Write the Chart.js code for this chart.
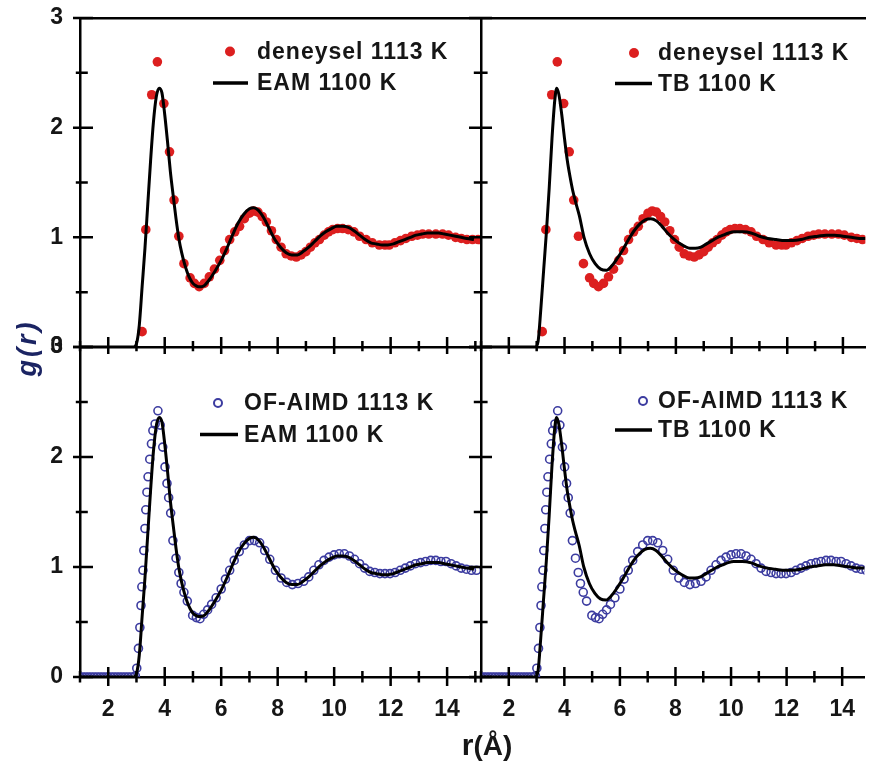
<!DOCTYPE html>
<html>
<head>
<meta charset="utf-8">
<script src="https://cdn.jsdelivr.net/npm/chart.js@4.4.0/dist/chart.umd.min.js"></script>
<style>
  body { margin: 0; background: #fff; overflow: hidden; }
  #wrap { position: relative; width: 870px; height: 763px; }
  #wrap canvas { position: absolute; left: 0; top: 0; }
</style>
</head>
<body>
<div id="wrap">
  <canvas id="tl" width="870" height="763"></canvas>
  <canvas id="tr" width="870" height="763"></canvas>
  <canvas id="bl" width="870" height="763"></canvas>
  <canvas id="br" width="870" height="763"></canvas>
</div>
<script>
// tick values (r in Angstrom, g(r))
const xMajor = [2, 4, 6, 8, 10, 12, 14];
const xMinor = [1, 3, 5, 7, 9, 11, 13, 15];
const yMajor = [0, 1, 2, 3];
const yMinor = [0.5, 1.5, 2.5];

// experiment, 1113 K  [r, g]
const deneysel = [
  [3.20,0.14],[3.33,1.07],[3.54,2.30],[3.74,2.60],[3.97,2.22],[4.17,1.78],[4.33,1.34],[4.50,1.01],
  [4.68,0.76],[4.90,0.63],[5.05,0.58],[5.22,0.55],[5.40,0.58],[5.58,0.64],[5.76,0.71],[5.95,0.79],
  [6.12,0.88],[6.30,0.98],[6.48,1.05],[6.65,1.10],[6.82,1.17],[7.00,1.22],[7.15,1.24],[7.30,1.23],
  [7.45,1.19],[7.60,1.14],[7.78,1.06],[7.95,0.98],[8.12,0.91],[8.30,0.85],[8.48,0.83],[8.66,0.82],
  [8.83,0.84],[9.00,0.87],[9.16,0.91],[9.32,0.95],[9.48,0.98],[9.65,1.02],[9.80,1.05],[9.95,1.07],
  [10.12,1.08],[10.30,1.08],[10.50,1.07],[10.70,1.05],[10.90,1.01],[11.13,0.98],[11.35,0.95],[11.60,0.93],
  [11.80,0.93],[11.95,0.93],[12.15,0.95],[12.35,0.97],[12.54,0.99],[12.75,1.01],[12.95,1.02],[13.13,1.03],
  [13.35,1.03],[13.60,1.03],[13.84,1.03],[14.05,1.02],[14.30,1.00],[14.50,0.99],[14.70,0.98],[14.90,0.98],
  [15.10,0.98]
];

// OF-AIMD, 1113 K  [r, g]
const ofAimd = [
  [1.0,0],[1.1,0],[1.2,0],[1.3,0],[1.4,0],[1.5,0],[1.6,0],[1.7,0],[1.8,0],[1.9,0],
  [2.0,0],[2.1,0],[2.2,0],[2.3,0],[2.4,0],[2.5,0],[2.6,0],[2.7,0],[2.8,0],[2.9,0],
  [2.96,0.01],[3.01,0.08],[3.07,0.26],[3.12,0.45],[3.16,0.65],[3.19,0.82],[3.23,0.97],[3.26,1.15],
  [3.30,1.35],[3.33,1.52],[3.37,1.68],[3.41,1.82],[3.47,1.98],[3.53,2.12],[3.58,2.24],[3.66,2.30],
  [3.76,2.42],[3.84,2.29],[3.93,2.09],[4.01,1.91],[4.08,1.76],[4.14,1.63],[4.21,1.49],[4.29,1.24],
  [4.40,1.08],[4.50,0.95],[4.58,0.85],[4.68,0.77],[4.80,0.69],[4.99,0.56],[5.12,0.54],[5.25,0.53],
  [5.38,0.57],[5.52,0.61],[5.66,0.66],[5.82,0.72],[6.00,0.80],[6.15,0.89],[6.30,0.97],[6.46,1.06],
  [6.64,1.14],[6.82,1.20],[7.00,1.24],[7.18,1.24],[7.36,1.22],[7.54,1.15],[7.72,1.07],[7.92,0.97],
  [8.12,0.90],[8.32,0.86],[8.52,0.84],[8.72,0.85],[8.92,0.87],[9.10,0.91],[9.28,0.97],[9.46,1.02],
  [9.64,1.06],[9.82,1.09],[10.00,1.11],[10.18,1.12],[10.36,1.12],[10.54,1.10],[10.72,1.07],[10.90,1.03],
  [11.08,0.99],[11.26,0.96],[11.44,0.95],[11.62,0.94],[11.80,0.94],[11.98,0.94],[12.16,0.95],[12.34,0.97],
  [12.52,0.99],[12.70,1.01],[12.88,1.03],[13.06,1.04],[13.24,1.05],[13.42,1.06],[13.60,1.06],[13.78,1.05],
  [13.96,1.05],[14.14,1.03],[14.32,1.01],[14.50,0.99],[14.68,0.98],[14.86,0.97],[15.04,0.97]
];

// EAM, 1100 K  [r, g]
const eam = [
  [1.0,0],[2.9,0],[3.0,0.03],[3.1,0.2],[3.2,0.55],[3.3,0.9],[3.4,1.3],[3.5,1.7],[3.6,2.05],[3.7,2.28],
  [3.8,2.36],[3.9,2.32],[4.0,2.12],[4.1,1.87],[4.2,1.6],[4.3,1.38],[4.4,1.17],[4.5,0.99],[4.6,0.86],
  [4.7,0.76],[4.8,0.68],[4.9,0.62],[5.0,0.58],[5.1,0.56],[5.2,0.55],[5.3,0.55],[5.4,0.56],[5.6,0.62],
  [5.8,0.70],[6.0,0.79],[6.2,0.90],[6.4,1.02],[6.6,1.13],[6.8,1.21],[7.0,1.26],[7.15,1.27],[7.3,1.25],
  [7.5,1.18],[7.7,1.08],[7.9,0.98],[8.1,0.91],[8.3,0.86],[8.5,0.84],[8.7,0.84],[8.9,0.87],[9.1,0.91],
  [9.3,0.96],[9.5,1.01],[9.7,1.05],[9.9,1.08],[10.1,1.10],[10.3,1.10],[10.5,1.09],[10.7,1.06],[10.9,1.02],
  [11.1,0.98],[11.3,0.95],[11.5,0.94],[11.7,0.93],[11.9,0.93],[12.1,0.94],[12.3,0.96],[12.5,0.98],
  [12.7,1.00],[12.9,1.02],[13.1,1.03],[13.3,1.04],[13.5,1.04],[13.7,1.04],[13.9,1.03],[14.1,1.02],
  [14.3,1.01],[14.5,1.00],[14.7,0.99],[14.95,0.98]
];

// TB, 1100 K  [r, g]
const tb = [
  [1.0,0],[2.95,0],[3.05,0.05],[3.15,0.35],[3.25,0.7],[3.35,1.05],[3.45,1.45],[3.55,1.9],[3.65,2.25],
  [3.72,2.36],[3.8,2.3],[3.9,2.12],[4.0,1.9],[4.1,1.7],[4.2,1.55],[4.3,1.42],[4.4,1.32],[4.53,1.2],
  [4.7,1.0],[4.9,0.85],[5.1,0.76],[5.3,0.71],[5.5,0.70],[5.7,0.74],[5.9,0.81],[6.1,0.89],[6.3,0.98],
  [6.5,1.06],[6.7,1.12],[6.9,1.16],[7.1,1.17],[7.3,1.15],[7.5,1.10],[7.7,1.04],[7.9,0.99],[8.1,0.95],
  [8.3,0.92],[8.5,0.90],[8.7,0.90],[8.9,0.91],[9.1,0.94],[9.3,0.97],[9.5,1.00],[9.7,1.02],[9.9,1.04],
  [10.1,1.05],[10.4,1.05],[10.7,1.04],[11.0,1.01],[11.3,0.99],[11.6,0.98],[11.9,0.97],[12.2,0.97],
  [12.5,0.98],[12.8,1.0],[13.1,1.01],[13.4,1.02],[13.7,1.02],[14.0,1.01],[14.3,1.0],[14.6,0.99],[14.9,0.99]
];

const W = 870, H = 763;
const FONT = "'Liberation Sans', Arial, sans-serif";
const INK = '#161616';

const pts = arr => arr.map(p => ({ x: p[0], y: p[1] }));

// dataset builders
const dots = (label, pairs) => ({
  label, data: pts(pairs), pointRadius: 4.8, backgroundColor: '#dc1f1f', borderColor: '#dc1f1f', borderWidth: 0, order: 2
});
const rings = (label, pairs) => ({
  label, data: pts(pairs), pointRadius: 4, backgroundColor: 'rgba(0,0,0,0)', borderColor: '#3c3ca0', borderWidth: 1.6, order: 2
});
const curve = (label, pairs) => ({
  label, data: pts(pairs), showLine: true, pointRadius: 0, borderColor: '#000', borderWidth: 3,
  cubicInterpolationMode: 'monotone', order: 1
});

// no extra room for edge labels, the panels butt against each other
const noPad = s => { s.paddingTop = 0; s.paddingBottom = 0; s.paddingLeft = 0; s.paddingRight = 0; };

// ticks that cross the axis line (in = into plot, out = outside)
const crossTicks = {
  id: 'crossTicks',
  afterDraw(chart, args, o) {
    const { ctx, chartArea: { left, bottom }, scales: { x, y } } = chart;
    ctx.save();
    ctx.strokeStyle = '#000';
    ctx.lineWidth = 2.5;
    ctx.beginPath();
    const xt = (v, inn, out) => {
      if (v < x.min || v > x.max) return;
      const px = x.getPixelForValue(v);
      ctx.moveTo(px, bottom - inn); ctx.lineTo(px, bottom + out);
    };
    const yt = (v, inn, out) => {
      const py = y.getPixelForValue(v);
      ctx.moveTo(left - out, py); ctx.lineTo(left + inn, py);
    };
    xMajor.forEach(v => xt(v, o.xIn, o.xOut));
    xMinor.forEach(v => xt(v, o.xIn * 0.6, o.xOut * 0.6));
    yMajor.forEach(v => yt(v, o.yIn, o.yOut));
    yMinor.forEach(v => yt(v, o.yIn * 0.6, o.yOut * 0.6));
    ctx.stroke();
    ctx.restore();
  }
};

// legend inside the plot area
const insetLegend = {
  id: 'insetLegend',
  afterDraw(chart, args, o) {
    const ctx = chart.ctx;
    ctx.save();
    ctx.font = `bold 23px ${FONT}`;
    ctx.letterSpacing = '1px';
    ctx.fillStyle = INK;
    ctx.textBaseline = 'alphabetic';
    chart.data.datasets.forEach((ds, i) => {
      const base = o.base[i];
      if (ds.showLine) {
        ctx.strokeStyle = ds.borderColor;
        ctx.lineWidth = 3.5;
        ctx.beginPath();
        ctx.moveTo(o.line[0], base - 7);
        ctx.lineTo(o.line[1], base - 7);
        ctx.stroke();
      } else if (ds.borderWidth) {
        ctx.strokeStyle = ds.borderColor;
        ctx.lineWidth = 2;
        ctx.beginPath();
        ctx.arc(o.markX, base - 7, 4, 0, Math.PI * 2);
        ctx.stroke();
      } else {
        ctx.fillStyle = ds.backgroundColor;
        ctx.beginPath();
        ctx.arc(o.markX, base - 7, 5, 0, Math.PI * 2);
        ctx.fill();
        ctx.fillStyle = INK;
      }
      ctx.fillText(ds.label, o.textX, base);
    });
    ctx.restore();
  }
};

// shared axis titles: g(r) and r(Å)
const axisTitles = {
  id: 'axisTitles',
  afterDraw(chart) {
    const ctx = chart.ctx;
    ctx.save();
    ctx.translate(29, 348);
    ctx.rotate(-Math.PI / 2);
    ctx.font = `italic bold 27px ${FONT}`;
    ctx.letterSpacing = '3px';
    ctx.fillStyle = '#1b2463';
    ctx.textAlign = 'center';
    ctx.textBaseline = 'middle';
    ctx.fillText('g(r)', 0, 0);
    ctx.restore();

    ctx.save();
    ctx.fillStyle = INK;
    ctx.textBaseline = 'alphabetic';
    ctx.font = `bold 30px ${FONT}`;
    const w1 = ctx.measureText('r').width;
    ctx.font = `bold 28px ${FONT}`;
    const w2 = ctx.measureText('(Å)').width;
    const x0 = 487 - (w1 + w2) / 2;
    ctx.font = `bold 30px ${FONT}`;
    ctx.fillText('r', x0, 755);
    ctx.font = `bold 28px ${FONT}`;
    ctx.fillText('(Å)', x0 + w1, 755);
    ctx.restore();
  }
};

function panel(id, cfg) {
  const yW = cfg.yLabels ? 80 : 0;
  const xH = cfg.xLabels ? 86 : 0;
  const tickFont = { family: FONT, size: 23, weight: 'bold' };
  const border = { display: true, color: '#000', width: 2.5 };
  return new Chart(document.getElementById(id), {
    type: 'scatter',
    data: { datasets: cfg.datasets },
    options: {
      responsive: false,
      animation: false,
      events: [],
      layout: {
        padding: { left: cfg.box[0] - yW, top: cfg.box[1], right: W - cfg.box[2], bottom: H - cfg.box[3] - xH }
      },
      scales: {
        x: {
          type: 'linear', position: 'bottom', min: 1, max: cfg.xMax,
          afterBuildTicks: s => { s.ticks = xMajor.map(v => ({ value: v })); },
          afterFit: s => { s.height = xH; noPad(s); },
          grid: { display: false, drawTicks: false },
          border,
          ticks: { display: cfg.xLabels, font: tickFont, color: INK, padding: 19, maxRotation: 0, autoSkip: false }
        },
        y: {
          type: 'linear', position: 'left', min: 0, max: 3,
          afterBuildTicks: s => { s.ticks = yMajor.map(v => ({ value: v })); },
          afterFit: s => { s.width = yW; noPad(s); },
          grid: { display: false, drawTicks: false },
          border,
          ticks: { display: cfg.yLabels, font: tickFont, color: INK, padding: 17 }
        },
        top: {
          type: 'linear', axis: 'x', position: 'top', min: 1, max: cfg.xMax,
          display: cfg.topLine,
          afterFit: s => { s.height = 0; noPad(s); },
          grid: { display: false, drawTicks: false },
          border,
          ticks: { display: false }
        }
      },
      plugins: {
        legend: { display: false },
        tooltip: { enabled: false },
        crossTicks: cfg.ticks,
        insetLegend: cfg.legend
      }
    },
    plugins: [crossTicks, insetLegend].concat(cfg.extra || [])
  });
}

panel('tl', {
  box: [80, 18, 481, 347], xMax: 15.2, yLabels: true, xLabels: false, topLine: true,
  datasets: [dots('deneysel 1113 K', deneysel), curve('EAM 1100 K', eam)],
  ticks: { xIn: 10, xOut: 7, yIn: 13, yOut: 7 },
  legend: { textX: 257, base: [58.5, 90], markX: 230, line: [213, 248] }
});
panel('tr', {
  box: [481, 18, 870, 347], xMax: 14.8, yLabels: false, xLabels: false, topLine: true,
  datasets: [dots('deneysel 1113 K', deneysel), curve('TB 1100 K', tb)],
  ticks: { xIn: 10, xOut: 7, yIn: 11, yOut: 12 },
  legend: { textX: 658, base: [60, 90.5], markX: 634, line: [615, 652] }
});
panel('bl', {
  box: [80, 347, 481, 677], xMax: 15.2, yLabels: true, xLabels: true, topLine: false,
  datasets: [rings('OF-AIMD 1113 K', ofAimd), curve('EAM 1100 K', eam)],
  ticks: { xIn: 10, xOut: 9, yIn: 13, yOut: 7 },
  legend: { textX: 244, base: [410, 441.5], markX: 218, line: [200, 238] },
  extra: [axisTitles]
});
panel('br', {
  box: [481, 347, 870, 677], xMax: 14.8, yLabels: false, xLabels: true, topLine: false,
  datasets: [rings('OF-AIMD 1113 K', ofAimd), curve('TB 1100 K', tb)],
  ticks: { xIn: 10, xOut: 9, yIn: 11, yOut: 12 },
  legend: { textX: 658, base: [408, 437], markX: 643, line: [615, 652] }
});
</script>
</body>
</html>
